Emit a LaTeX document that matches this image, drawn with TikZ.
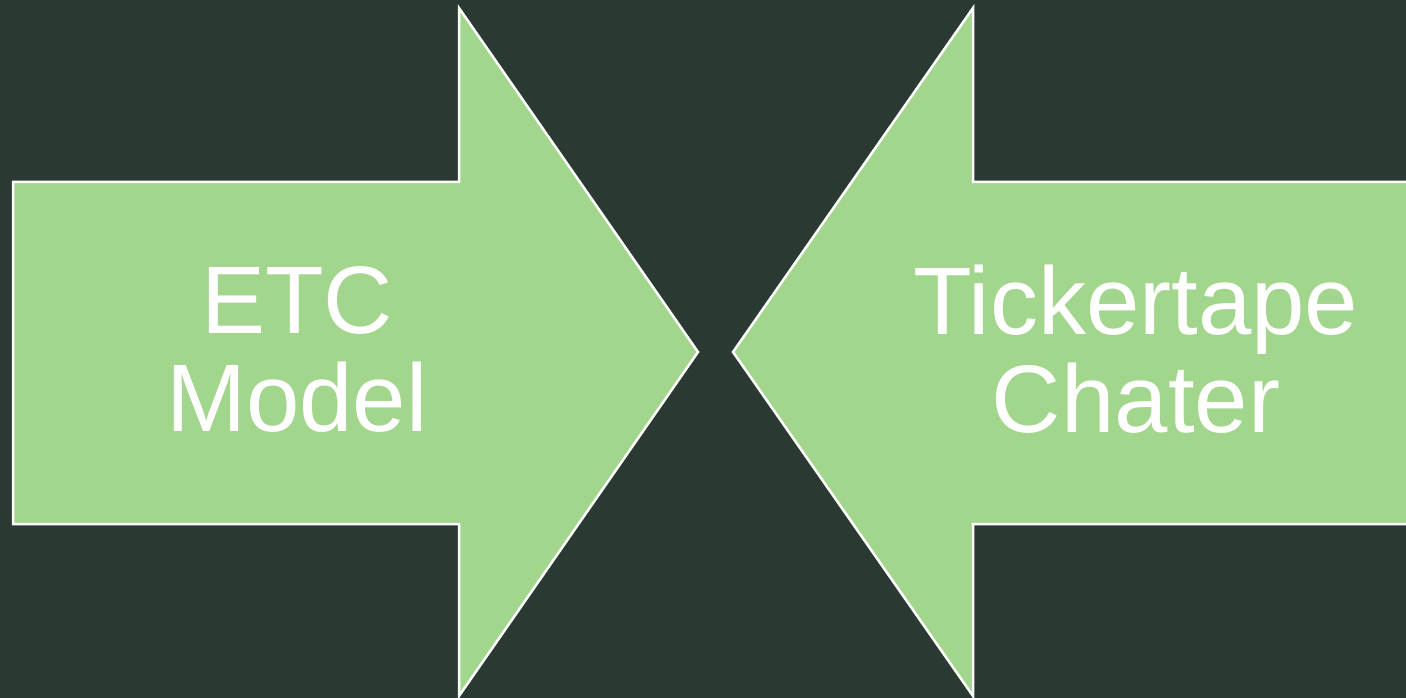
\documentclass[tikz,border=0pt]{standalone}
\usepackage{fontspec}
\setmainfont{Liberation Sans}
\definecolor{bg}{HTML}{2A3932}
\definecolor{arrowgreen}{HTML}{A3D68D}
\begin{document}
\begin{tikzpicture}[x=1pt,y=-1pt,
  arrowshape/.style={fill=arrowgreen,draw=white,line width=2.5pt,line join=miter},
  label/.style={text=white,align=center,font=\fontsize{96}{98}\selectfont,inner sep=0pt}]
\fill[bg] (0,0) rectangle (1406,698);
\useasboundingbox (0,0) rectangle (1406,698);
\draw[arrowshape] (13,182) -- (459,182) -- (459,8) -- (698,352) -- (459,696) -- (459,524) -- (13,524) -- cycle;
\draw[arrowshape] (1410,182) -- (973,182) -- (973,8) -- (733,352) -- (973,696) -- (973,524) -- (1410,524) -- cycle;
\node[label] (etc) at (297,349) {ETC\\Model};
\node[label] (tick) at (1136,349) {Tickertape\\Chater};
\end{tikzpicture}
\end{document}
